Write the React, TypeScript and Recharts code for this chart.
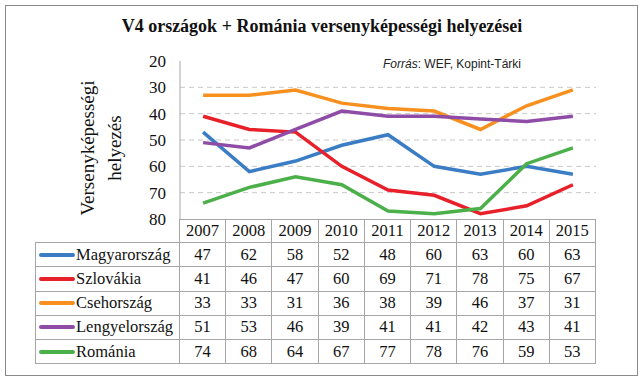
import { LineChart, Line, XAxis, YAxis, ReferenceLine } from 'recharts';

const years = ['2007', '2008', '2009', '2010', '2011', '2012', '2013', '2014', '2015'];
const magyarorszag = [47, 62, 58, 52, 48, 60, 63, 60, 63];
const szlovakia = [41, 46, 47, 60, 69, 71, 78, 75, 67];
const csehorszag = [33, 33, 31, 36, 38, 39, 46, 37, 31];
const lengyelorszag = [51, 53, 46, 39, 41, 41, 42, 43, 41];
const romania = [74, 68, 64, 67, 77, 78, 76, 59, 53];
const yTicks = [20, 30, 40, 50, 60, 70, 80];
const gridValues = [30, 40, 50, 60, 70];

const series = [
  { key: 'hu', name: 'Magyarország', values: magyarorszag, color: '#3b7dc4' },
  { key: 'sk', name: 'Szlovákia', values: szlovakia, color: '#e8202a' },
  { key: 'cz', name: 'Csehország', values: csehorszag, color: '#f7901e' },
  { key: 'pl', name: 'Lengyelország', values: lengyelorszag, color: '#8e4ca6' },
  { key: 'ro', name: 'Románia', values: romania, color: '#4cb04a' },
];

const data = years.map((year, i) => {
  const row: Record<string, string | number> = { year };
  series.forEach(s => { row[s.key] = s.values[i]; });
  return row;
});

const serif = '"Liberation Serif", "Times New Roman", serif';
const gridColor = '#a6a6a6';

const PLOT_LEFT = 180;
const PLOT_RIGHT = 596;
const ROW_TOP = 219;
const ROW_H = 24.2;
const FIRST_COL = 145;
const colW = (PLOT_RIGHT - PLOT_LEFT) / years.length;

function DataTable() {
  const cell = (extra: React.CSSProperties = {}): React.CSSProperties => ({
    boxSizing: 'border-box',
    width: colW,
    height: ROW_H,
    borderRight: `1px solid ${gridColor}`,
    borderBottom: `1px solid ${gridColor}`,
    display: 'flex',
    alignItems: 'center',
    justifyContent: 'center',
    fontSize: 16.5,
    color: '#111',
    ...extra,
  });
  return (
    <div style={{ position: 'absolute', left: PLOT_LEFT - FIRST_COL, top: ROW_TOP, fontFamily: serif }}>
      <div style={{ display: 'flex' }}>
        <div style={{ width: FIRST_COL, height: ROW_H, boxSizing: 'border-box', borderRight: `1px solid ${gridColor}`, borderBottom: `1px solid ${gridColor}` }} />
        {years.map(y => (
          <div key={y} style={cell({ borderTop: `1px solid ${gridColor}` })}>{y}</div>
        ))}
      </div>
      {series.map(s => (
        <div key={s.key} style={{ display: 'flex' }}>
          <div style={cell({ width: FIRST_COL, borderLeft: `1px solid ${gridColor}`, justifyContent: 'flex-start', paddingLeft: 3 })}>
            <span style={{ display: 'inline-block', width: 36, height: 4, borderRadius: 2, background: s.color, marginRight: 1 }} />
            <span>{s.name}</span>
          </div>
          {s.values.map((v, i) => (
            <div key={i} style={cell()}>{v}</div>
          ))}
        </div>
      ))}
    </div>
  );
}

export default function App() {
  return (
    <div style={{ position: 'absolute', left: 0, top: 0, width: 644, height: 381, background: '#fff', overflow: 'hidden' }}>
      <div style={{ position: 'absolute', left: 5, top: 5, width: 633, height: 371, boxSizing: 'border-box', border: '1px solid #8a8a8a' }} />
      <div style={{ position: 'absolute', left: 0, top: 16, width: 644, textAlign: 'center', fontFamily: serif, fontWeight: 'bold', fontSize: 18, color: '#111' }}>
        V4 országok + Románia versenyképességi helyezései
      </div>
      <div style={{ position: 'absolute', left: 383, top: 57, fontFamily: '"Liberation Sans", Arial, sans-serif', fontSize: 12, color: '#222' }}>
        <i>Forrás</i>: WEF, Kopint-Tárki
      </div>
      <div style={{ position: 'absolute', left: 101 - 100, top: 148 - 27, width: 200, height: 54, transform: 'rotate(-90deg)', textAlign: 'center', fontFamily: serif, fontSize: 19, lineHeight: '27px', color: '#111' }}>
        Versenyképességi<br />helyezés
      </div>
      <div style={{ position: 'absolute', left: 0, top: 0 }}>
        <LineChart width={644} height={240} data={data} margin={{ top: 61, right: 644 - PLOT_RIGHT, bottom: 21, left: PLOT_LEFT - 40 }}>
          <XAxis dataKey="year" hide padding={{ left: colW / 2, right: colW / 2 }} />
          <YAxis
            width={40}
            reversed
            domain={[20, 80]}
            ticks={yTicks}
            interval={0}
            tickLine={false}
            tickSize={6}
            tickMargin={8}
            axisLine={{ stroke: gridColor }}
            tick={{ fill: '#111', fontSize: 17, fontFamily: serif }}
          />
          {gridValues.map(v => (
            <ReferenceLine key={v} y={v} stroke="#c8c8c8" strokeDasharray="5 4" />
          ))}
          {series.map(s => (
            <Line
              key={s.key}
              type="linear"
              dataKey={s.key}
              name={s.name}
              stroke={s.color}
              strokeWidth={3.5}
              dot={false}
              isAnimationActive={false}
            />
          ))}
        </LineChart>
      </div>
      <DataTable />
    </div>
  );
}
